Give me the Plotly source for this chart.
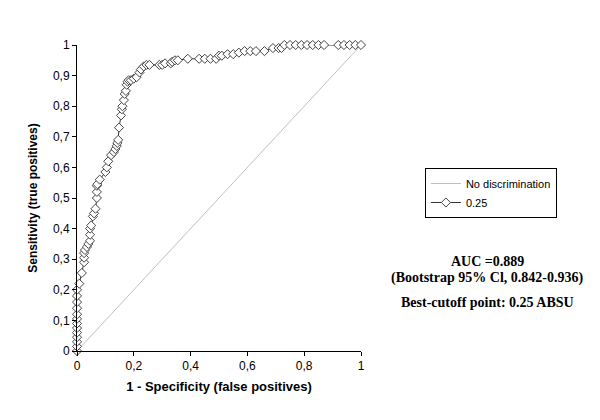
import plotly.graph_objects as go

# ROC curve points (1 - specificity, sensitivity)
fpr = [0, 0, 0, 0, 0, 0, 0, 0, 0, 0, 0, 0, 0,
       0.008, 0.017, 0.025, 0.025, 0.025, 0.028, 0.035, 0.04,
       0.046, 0.046, 0.046, 0.05, 0.056, 0.06, 0.065,
       0.07, 0.07, 0.07, 0.072, 0.08, 0.1, 0.105, 0.11, 0.12,
       0.13, 0.135, 0.14, 0.142, 0.145, 0.148, 0.155, 0.158, 0.16,
       0.165, 0.168, 0.172, 0.175, 0.178, 0.182, 0.19, 0.2, 0.21,
       0.22, 0.225, 0.235, 0.245, 0.255, 0.29, 0.3, 0.31, 0.33,
       0.335, 0.345, 0.355, 0.39, 0.43, 0.45, 0.47, 0.49,
       0.5, 0.51, 0.53, 0.55, 0.57, 0.59, 0.61, 0.63, 0.66,
       0.69, 0.71, 0.72, 0.73, 0.75, 0.77, 0.79, 0.81, 0.83, 0.85, 0.87,
       0.92, 0.94, 0.96, 0.98, 1.0]
tpr = [0, 0.015, 0.03, 0.045, 0.06, 0.075, 0.09, 0.105, 0.12, 0.14, 0.16, 0.18, 0.2,
       0.22, 0.255, 0.29, 0.305, 0.32, 0.33, 0.34, 0.35,
       0.36, 0.38, 0.4, 0.41, 0.44, 0.45, 0.465,
       0.5, 0.52, 0.54, 0.545, 0.56, 0.585, 0.6, 0.62, 0.64,
       0.65, 0.66, 0.67, 0.68, 0.69, 0.73, 0.77, 0.79, 0.8,
       0.82, 0.84, 0.85, 0.87, 0.88, 0.885, 0.885, 0.89, 0.895,
       0.91, 0.92, 0.93, 0.935, 0.935, 0.935, 0.935, 0.94, 0.94,
       0.945, 0.95, 0.95, 0.955, 0.955, 0.955, 0.955, 0.955,
       0.965, 0.965, 0.97, 0.97, 0.975, 0.98, 0.98, 0.98, 0.98,
       0.99, 0.99, 0.99, 1, 1, 1, 1, 1, 1, 1, 1,
       1, 1, 1, 1, 1]
diag = [0, 1]

notes = ["<b>AUC =0.889</b>",
         "<b>(Bootstrap 95% Cl, 0.842-0.936)</b>",
         "<b>Best-cutoff point: 0.25 ABSU</b>"]
note_y = [0.291, 0.239, 0.157]

fig = go.Figure()
fig.add_trace(go.Scatter(x=diag, y=diag, mode="lines", name="No discrimination",
                         line=dict(color="#c0c0c0", width=1)))
fig.add_trace(go.Scatter(x=fpr, y=tpr, mode="lines+markers", name="0.25",
                         cliponaxis=False,
                         line=dict(color="#333333", width=1),
                         marker=dict(symbol="diamond", size=7, color="white",
                                     line=dict(color="#444444", width=1))))

sans = "Liberation Sans, Arial"
axis_font = dict(family=sans, size=12, color="black")
fig.update_xaxes(range=[0, 1], tickvals=[0, 0.2, 0.4, 0.6, 0.8, 1],
                 showline=True, linecolor="black", linewidth=1, ticks="outside",
                 ticklen=4, tickcolor="black", showgrid=False, zeroline=False,
                 tickfont=axis_font,
                 title=dict(text="<b>1 - Specificity (false positives)</b>",
                            font=dict(family=sans, size=13, color="black"), standoff=9))
fig.update_yaxes(range=[0, 1], tickvals=[i / 10 for i in range(11)],
                 showline=True, linecolor="black", linewidth=1, ticks="outside",
                 ticklen=4, tickcolor="black", showgrid=False, zeroline=False,
                 tickfont=axis_font,
                 title=dict(text="<b>Sensitivity (true positives)</b>",
                            font=dict(family=sans, size=12, color="black"), standoff=12))

for txt, yy in zip(notes, note_y):
    fig.add_annotation(x=1.444, y=yy, xref="paper", yref="paper", showarrow=False,
                       text=txt, xanchor="center", yanchor="middle",
                       font=dict(family="Liberation Serif, Times New Roman", size=14,
                                 color="black"))

# the page body adds an 8px margin, so the margins are shifted by it
fig.update_layout(
    width=600, height=420,
    margin=dict(l=69, r=247, t=37, b=77),
    plot_bgcolor="white", paper_bgcolor="white",
    separators=",.",
    legend=dict(x=1.225, y=0.598, xanchor="left", yanchor="top",
                bordercolor="black", borderwidth=1,
                font=dict(family=sans, size=11, color="black"),
                tracegroupgap=0, itemwidth=30),
    showlegend=True,
)

fig.write_html("out.html")
